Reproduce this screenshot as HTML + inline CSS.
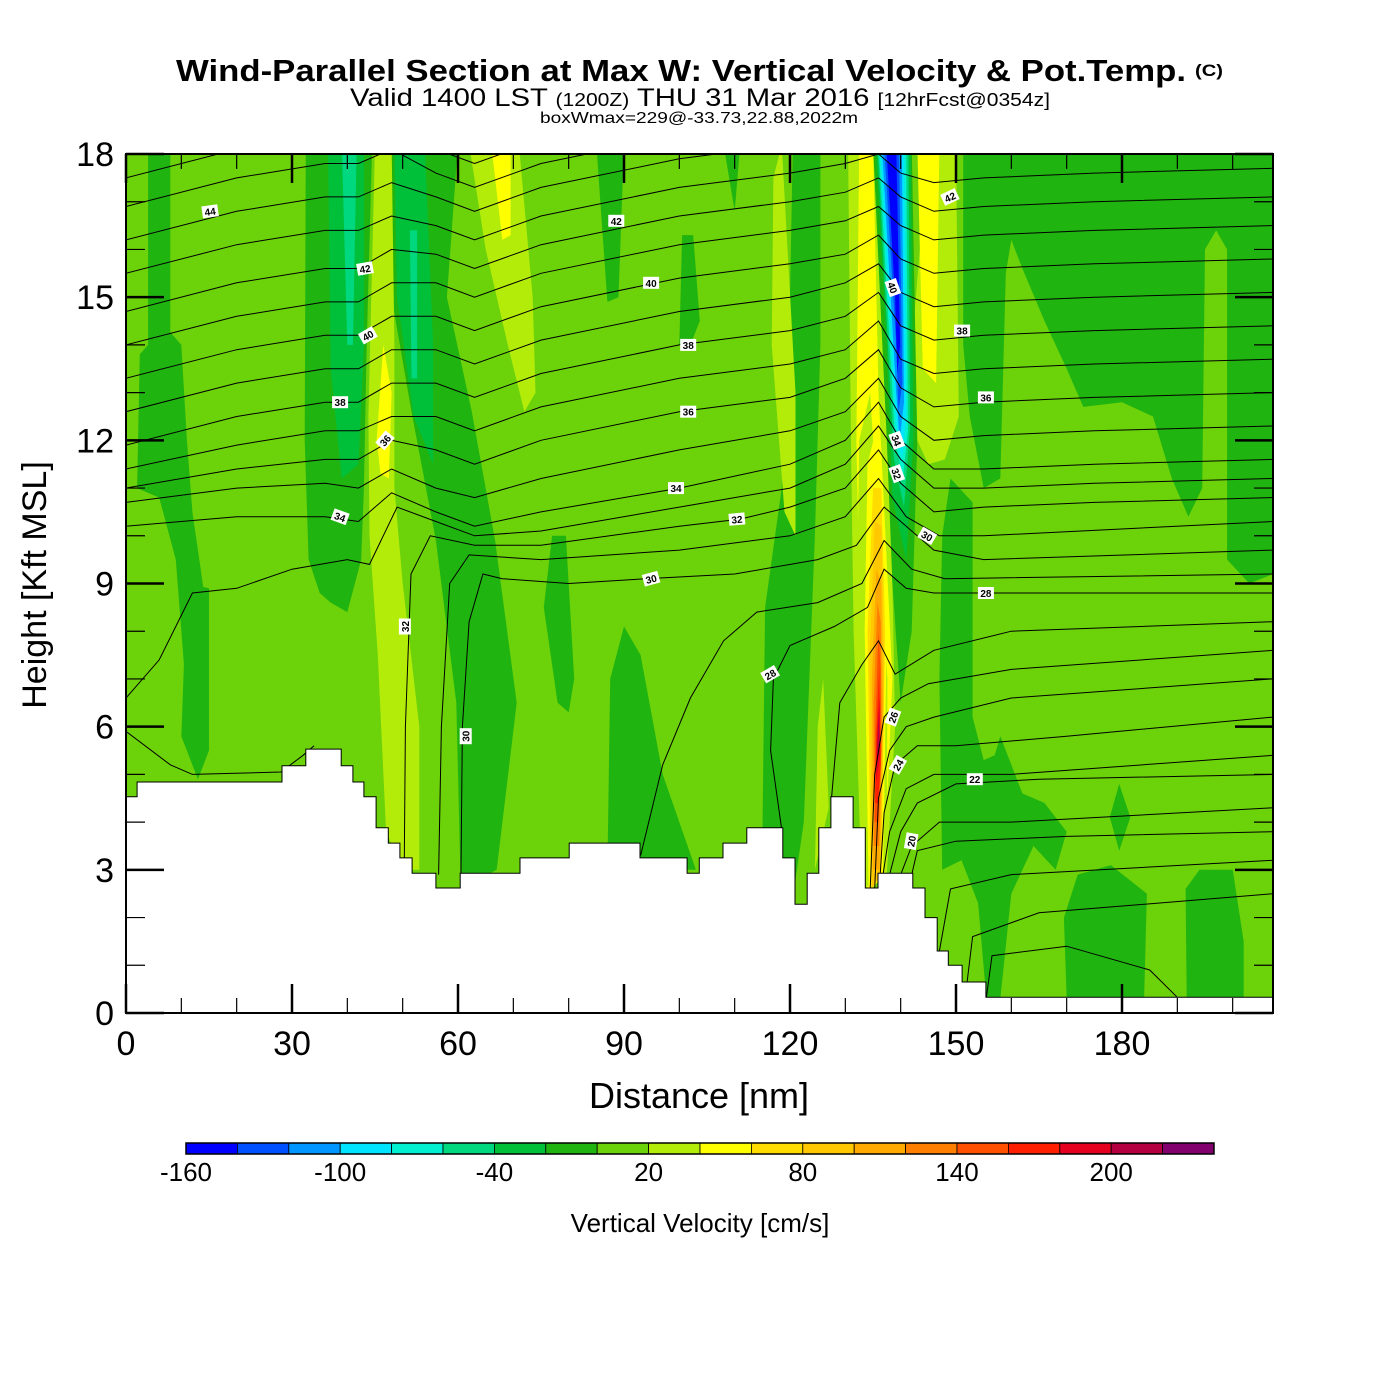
<!DOCTYPE html>
<html><head><meta charset="utf-8"><style>
html,body{margin:0;padding:0;background:#fff;}
svg{display:block;font-family:"Liberation Sans",Arial,sans-serif;}
</style></head><body>
<svg id="chart" width="1400" height="1400" viewBox="0 0 1400 1400" xmlns="http://www.w3.org/2000/svg">
<defs><clipPath id="plotclip"><rect x="126" y="154" width="1147" height="859"/></clipPath></defs>
<g>
<text x="176" y="81" font-size="31" font-weight="bold" textLength="1010" lengthAdjust="spacingAndGlyphs">Wind-Parallel Section at Max W: Vertical Velocity &amp; Pot.Temp.</text>
<text x="1195" y="76" font-size="17" font-weight="bold" textLength="28" lengthAdjust="spacingAndGlyphs">(C)</text>
<text x="350" y="106" font-size="25" textLength="700" lengthAdjust="spacingAndGlyphs">Valid 1400 LST <tspan font-size="18">(1200Z)</tspan> THU 31 Mar 2016 <tspan font-size="18">[12hrFcst@0354z]</tspan></text>
<text x="540" y="123" font-size="16" textLength="318" lengthAdjust="spacingAndGlyphs">boxWmax=229@-33.73,22.88,2022m</text>
</g>
<g id="field" clip-path="url(#plotclip)"></g>
<g id="contours" clip-path="url(#plotclip)"></g>
<g id="terrain" clip-path="url(#plotclip)"></g>
<g id="clabels"></g>
<g id="axes"></g>
<g id="cbar"></g>
</svg>
<script>
// ---------- data ----------
const colorBins = ['#0000ff','#0050ff','#0096ff','#00e4ff','#00f0d0','#00d880','#00c03a','#20b410','#6cd20a','#b4ec0a','#ffff00','#ffdc00','#ffc800','#ffaa00','#ff8000','#ff5000','#ff1e00','#e60020','#b40040','#82006e'];
const colorBinStart = -160, colorBinStep = 20;
const colorbarTickLabels = ['-160','-100','-40','20','80','140','200'];
const xTickLabels = [0,30,60,90,120,150,180];
const yTickLabels = [0,3,6,9,12,15,18];
const backgroundValue = 10;
// field regions: value (cm/s) + outline in (nm, kft)
const regionValues = [
 -10,-10,
 -10,-30,-50,
 -10,-30,-50,
 30,50,30,50,
 -10,-10,-10,-10,-10,-10,
 -10,30,30,
 -10,-10,-10,-10,-10,
 30,50,30,50,
 -10,-30,-50,-70,-90,-110,-130,-150,
 30,50,70,90,110,130,150,170,190,210
];
const regionShapes = [
 [[2,11.0],[2.5,13.8],[7,14.4],[10,14.0],[11,12],[12,10.5],[14.5,8.5],[15,5.8],[13,5.0],[11,6.5],[9,9.5],[6,10.8]],
 [[4,14.0],[4,18.2],[8,18.2],[8,14.0]],
 [[32.5,18.2],[44.5,18.2],[43.5,14],[43,11],[42.5,9.5],[40,8.4],[37,8.6],[35,8.8],[33,9.5],[32.3,12]],
 [[36.5,18.2],[43,18.2],[43,14],[42,11.5],[39,11.2],[37,13.5]],
 [[39,18.2],[41.7,18.2],[41,14],[40,14]],
 [[48,18.2],[60,18.2],[58,15],[62.5,12.6],[66.7,9.9],[70.6,6.5],[67,3.0],[60.5,2.6],[59.7,6.5],[56,9.9],[51.6,12.6],[48,15]],
 [[48.5,18.2],[54,18.2],[55.5,14],[55.5,11.5],[52,12.5],[49,15]],
 [[51.3,16.4],[52.6,16.4],[52.6,13.3],[51.6,13.3]],
 [[45,18.2],[48,18.2],[48.5,14],[48.5,11],[50,9],[53,6],[53,3.0],[50,3.0],[47,3.8],[45.5,7.5],[44,10],[43.8,12.5]],
 [[45.3,12],[46.5,14.0],[48,13],[47.5,11.2],[46,11.3]],
 [[62,18.2],[71,18.2],[73.5,15],[74,13],[72,12.6],[69,14],[65,16]],
 [[66,18.2],[69.5,18.2],[69.5,16.3],[68,16.2]],
 [[75.5,8.5],[77,10],[79.5,10],[81,7],[80,6.3],[78,6.5]],
 [[87,3.0],[87.5,7],[90,8.1],[93,7.5],[97,5],[103,3.0]],
 [[85,18.2],[90,18.2],[89,15],[87,14.9]],
 [[100,14.0],[100.5,16.3],[102.5,16.3],[103.7,14.5],[102,14.0]],
 [[108,18.2],[111,18.2],[110,16.8]],
 [[115,3.5],[115.5,8.5],[118.5,11],[120,15],[120.5,18.2],[125.5,18.2],[125.5,14],[124.5,10],[122.5,4],[120,2.0]],
 [[10,5.8],[11,9],[15,8.9],[15,5.5],[13,4.9]],
 [[117,17.5],[118.5,18.2],[121,13],[121,10],[119,10.5],[116.7,14]],
 [[124.5,3.0],[125,6],[126,7],[127,4.3]],
 [[151.3,18.2],[207.3,18.2],[207.3,9.2],[203,9.0],[199,9.5],[199,16],[197,16.4],[195,16.0],[194.5,11],[192,10.4],[189,11.2],[185.6,12.5],[180,12.8],[173,12.7],[170,13.5],[166,14.5],[162,15.6],[160,16.2],[159,15.5],[158,11.2],[155,11.0],[152.5,12.5],[151.3,14]],
 [[147.5,3.0],[147,7],[147.5,10],[149,11.2],[153,10.7],[153,6.2],[155,5.3],[157,5.4],[158,5.8],[162,4.6],[166,4.4],[170,3.8],[168,3.0],[164,3.5],[160,2.5],[158,0.3],[155.5,0.3],[154,2.3],[151,3.2]],
 [[170,0.3],[169.5,2.0],[172,2.9],[178,3.1],[184.5,2.5],[184,0.3]],
 [[191.7,0.3],[191.5,2.6],[194,3.0],[200,3.0],[202,1.5],[202,0.3]],
 [[177.8,4.1],[179.5,4.8],[181.5,4.1],[179.5,3.4]],
 [[145,18.2],[150,18.2],[150.5,12.5],[148,11.6],[145,11.5],[141,12.5]],
 [[143,18.2],[147,18.2],[146.4,13.2],[144,13.5]],
 [[130.5,18.2],[131,12],[131.5,8],[133,2.5],[137.5,2.9],[139,6],[138,12],[137,18.2]],
 [[132.5,18.2],[132,12],[132.7,8],[134,2.5],[137,2.9],[138.5,7],[136,13],[135,18.2]],
 [[135,18.2],[142,18.2],[143,12],[142,8],[140,6.5],[138.5,9],[137.5,12]],
 [[135.5,18.2],[141.8,18.2],[142.3,12],[141,9.5],[138.5,10.8],[137.5,14]],
 [[135.8,18.2],[141.4,18.2],[141.7,12.3],[140.6,10.6],[138.8,11.6]],
 [[136,18.2],[141,18.2],[141.3,12.2],[140.4,11.2],[139,12]],
 [[136.3,18.2],[140.6,18.2],[141.0,12.5],[140.2,11.6],[139.2,12.4]],
 [[136.6,18.2],[140.2,18.2],[140.6,12.8],[139.8,12.0],[139.2,13]],
 [[137,18.2],[139.7,18.2],[140.3,13.2],[139.6,12.6],[139.2,14]],
 [[137.4,18.2],[139.2,18.2],[139.9,14.0],[139.4,13.4],[139.0,15]],
 [[133.2,2.6],[132,8],[132.5,12],[134.5,13],[137.6,7],[137.5,2.9]],
 [[134.2,2.6],[133.5,8],[134,11.5],[135.5,12.2],[137.5,8],[136.8,2.9]],
 [[134.6,2.6],[134,8],[135,11.0],[136.5,11.0],[137.2,8],[136.5,2.9]],
 [[134.8,2.6],[134.4,7.5],[135.3,10.3],[136.5,10.2],[137,7],[136.4,2.9]],
 [[135,3.0],[134.8,7],[135.6,9.3],[136.5,9.0],[136.8,6.5],[136.2,3.0]],
 [[135.2,3.5],[135.1,6.5],[135.8,8.6],[136.4,8.2],[136.6,6],[136.1,3.5]],
 [[135.3,4.0],[135.4,6],[136,8.0],[136.4,7.2],[136.5,5.5],[136,4.0]],
 [[135.4,4.4],[135.6,5.8],[136.1,7.2],[136.4,5.2],[135.9,4.4]],
 [[135.5,4.8],[135.8,6.0],[136.2,6.6],[136.3,5.4]],
 [[135.7,5.3],[136.0,6.2],[136.2,5.6]]
];
// theta contours (K): upper levels on shared x nodes
const upperNodesX = [0,20,36,42,48,56,63,75,100,120,130,136,140,146,155,175,207.3];
const upperLevels = [46,45,44,43,42,41,40,39,38,37,36,35,34];
const upperHeights = [
 [17.5,18.1,18.4,18.4,18.7,18.1,17.8,18.3,18.9,19.2,19.4,19.6,19.3,19.0,19.1,19.2,19.3],
 [16.9,17.5,17.8,17.8,18.1,17.6,17.3,17.8,18.4,18.7,18.9,19.1,18.8,18.5,18.6,18.7,18.8],
 [16.2,16.8,17.1,17.1,17.4,17.1,16.8,17.3,17.9,18.2,18.4,18.6,18.3,18.0,18.1,18.2,18.3],
 [15.5,16.1,16.4,16.4,16.7,16.5,16.2,16.7,17.3,17.6,17.8,18.0,17.6,17.4,17.5,17.6,17.7],
 [14.7,15.3,15.6,15.6,16.0,15.9,15.6,16.1,16.7,17.0,17.2,17.5,17.1,16.8,16.9,17.0,17.1],
 [14.0,14.6,14.9,14.9,15.3,15.3,15.0,15.5,16.1,16.4,16.6,16.9,16.5,16.2,16.3,16.4,16.5],
 [13.3,13.9,14.2,14.2,14.6,14.6,14.3,14.8,15.4,15.7,15.9,16.3,15.8,15.5,15.6,15.7,15.8],
 [12.6,13.2,13.5,13.5,13.9,13.9,13.6,14.1,14.7,15.0,15.3,15.7,15.1,14.8,14.9,15.0,15.1],
 [11.9,12.5,12.8,12.8,13.2,13.2,12.9,13.4,14.0,14.3,14.6,15.1,14.4,14.1,14.2,14.3,14.4],
 [11.4,11.9,12.2,12.2,12.5,12.5,12.2,12.7,13.3,13.6,13.9,14.5,13.7,13.4,13.5,13.6,13.7],
 [11.0,11.4,11.6,11.6,12.0,11.8,11.5,12.0,12.6,12.9,13.3,13.9,13.1,12.7,12.8,12.9,13.0],
 [10.7,11.0,11.1,11.0,11.4,11.0,10.8,11.2,11.8,12.2,12.6,13.3,12.5,12.0,12.1,12.2,12.3],
 [10.2,10.4,10.4,10.3,10.9,10.5,10.2,10.5,11.0,11.5,12.0,12.8,12.0,11.4,11.4,11.5,11.6]
];
const lowerLevels = [33,32,31,30,29,28,27,26,25,24,23,22,21,20,19,18,29,28];
const lowerPaths = [
 [[0,6.6],[6,7.4],[12,8.8],[20,8.9],[30,9.3],[40,9.5],[44,9.4],[49,10.6],[56,10.3],[63,10.0],[75,10.1],[100,10.6],[120,11.0],[130,11.5],[136,12.3],[140,11.6],[146,11.0],[155,11.0],[175,11.1],[207.3,11.2]],
 [[50.3,3.2],[50.5,6],[51.5,9.2],[55,10.0],[63,9.8],[75,9.8],[100,10.2],[111,10.35],[120,10.6],[130,11.0],[136,11.8],[140,11.1],[146,10.5],[155,10.6],[175,10.7],[207.3,10.8]],
 [[56.5,2.9],[57,6],[58.5,9.0],[62,9.6],[75,9.5],[100,9.7],[120,10.0],[130,10.4],[136,11.2],[141,10.4],[147,10.0],[155,10.0],[207.3,10.3]],
 [[60.5,2.6],[60.8,6],[62,8.2],[64.5,9.2],[68,9.1],[80,9.0],[94,9.1],[110,9.2],[125,9.5],[132,9.8],[137,10.6],[142,10.1],[146,9.7],[155,9.5],[207.3,9.7]],
 [[93,3.3],[97,5.2],[102,6.6],[108,7.8],[114,8.4],[125,8.6],[133,9.0],[137,9.9],[142,9.3],[148,9.1],[207.3,9.2]],
 [[118.5,3.85],[116.5,5.5],[117,7.0],[120,7.7],[128,8.1],[134,8.5],[137,9.3],[141,8.9],[146,8.8],[155,8.8],[207.3,8.8]],
 [[127.5,4.5],[129,6.5],[133,7.3],[136,7.8],[139,7.1],[146,7.6],[160,8.0],[207.3,8.2]],
 [[134.5,2.6],[135.3,5],[137,6.2],[140,6.6],[145,6.9],[160,7.2],[207.3,7.6]],
 [[135.3,2.6],[136,4.5],[138,5.5],[141,6.0],[146,6.2],[160,6.6],[207.3,7.0]],
 [[136.2,2.7],[137,4.2],[139,5.2],[143,5.6],[150,5.6],[170,5.8],[207.3,6.2]],
 [[136.8,2.9],[138,3.8],[141,4.7],[146,5.0],[160,5.0],[207.3,5.4]],
 [[138,2.9],[140,3.8],[143,4.4],[150,4.8],[165,4.9],[207.3,5.0]],
 [[140,2.9],[142,3.5],[147,4.0],[160,4.0],[207.3,4.3]],
 [[142,2.9],[143,3.4],[150,3.6],[170,3.7],[207.3,3.8]],
 [[147,1.3],[149,2.6],[160,2.9],[207.3,3.2]],
 [[152,0.65],[153,1.6],[165,2.1],[207.3,2.5]],
 [[0,5.9],[8,5.2],[12,5.0],[28,5.05],[32,5.4],[34,5.6]],
 [[155.5,0.33],[156.5,1.2],[170,1.4],[185,0.9],[190,0.33]]
];
const contourLabels = [
 ['44',15.2,16.8,-8],['42',43.2,15.6,-10],['40',43.7,14.2,-30],['38',38.7,12.8,0],['36',46.8,12.0,-50],
 ['34',38.7,10.4,20],['32',50.4,8.1,-90],['30',61.4,5.8,-90],['42',88.6,16.6,0],['40',94.9,15.3,0],
 ['38',101.6,14.0,0],['36',101.6,12.6,0],['34',99.4,11.0,0],['32',110.4,10.35,-5],['30',94.9,9.1,-15],
 ['28',116.4,7.1,-30],['42',148.9,17.1,-25],['40',138.6,15.2,70],['38',151.1,14.3,0],['36',155.4,12.9,0],
 ['34',139.3,12.0,70],['32',139.3,11.3,70],['30',144.8,10.0,30],['28',155.4,8.8,0],['26',138.6,6.2,-70],
 ['24',139.5,5.2,-60],['22',153.4,4.9,0],['20',141.9,3.6,-80]
];
const terrainStartX = [0,2.0,28.2,32.5,38.9,41.0,43.0,45.2,47.4,49.5,51.7,56.0,60.4,71.2,80.1,92.9,101.4,103.6,107.9,112.2,118.7,120.9,123.1,125.2,127.4,131.4,133.6,135.9,142.2,144.4,146.6,148.6,151.1,155.4];
const terrainHeight = [4.53,4.84,5.18,5.53,5.18,4.84,4.53,3.88,3.56,3.25,2.93,2.62,2.93,3.25,3.56,3.25,2.93,3.25,3.56,3.88,3.25,2.28,2.93,3.88,4.53,3.88,2.62,2.93,2.62,2.0,1.3,1.0,0.65,0.33];

// ---------- axes functions ----------
const X0=126, X1=1273, Y0=1013, Y1=154, XMAX=(1273-126)/(166/30), YMAX=18;
const sx = v => X0 + v*(166/30);
const sy = v => Y0 - v*(Y0-Y1)/YMAX;
const NS='http://www.w3.org/2000/svg';
function mk(tag, attrs, parent){const e=document.createElementNS(NS,tag);for(const k in attrs)e.setAttribute(k,attrs[k]);parent.appendChild(e);return e;}
const colorFor = v => colorBins[Math.max(0,Math.min(colorBins.length-1,Math.floor((v-colorBinStart)/colorBinStep)))];
const pts = arr => arr.map(p=>sx(p[0]).toFixed(1)+','+sy(p[1]).toFixed(1)).join(' ');

// field
const field=document.getElementById('field');
const bg=mk('rect',{x:X0,y:Y1,width:X1-X0,height:Y0-Y1,fill:colorFor(backgroundValue)},field);


regionShapes.forEach((shape,i)=>{
  const p=mk('polygon',{points:pts(shape),fill:colorFor(regionValues[i])},field);
  
  
});

// contours
const cg=document.getElementById('contours');
upperLevels.forEach((lev,i)=>{
  const line=upperNodesX.map((x,j)=>[x,upperHeights[i][j]]);
  const pl=mk('polyline',{points:pts(line),fill:'none',stroke:'#000','stroke-width':1},cg);
  
  
});
lowerPaths.forEach((line,i)=>{
  const pl=mk('polyline',{points:pts(line),fill:'none',stroke:'#000','stroke-width':1},cg);
  
  
});

// terrain
const tg=document.getElementById('terrain');
let tp=[[0,0]];
terrainStartX.forEach((x,i)=>{const xe=i+1<terrainStartX.length?terrainStartX[i+1]:XMAX+1;tp.push([x,terrainHeight[i]]);tp.push([xe,terrainHeight[i]]);});
tp.push([XMAX+1,0]);tp.push([XMAX+1,-1]);tp.push([0,-1]);
const tpoly=mk('polygon',{points:pts(tp),fill:'#fff',stroke:'#000','stroke-width':1},tg);



// contour labels
const lg=document.getElementById('clabels');
contourLabels.forEach(l=>{
  const g=mk('g',{transform:`translate(${sx(l[1]).toFixed(1)},${sy(l[2]).toFixed(1)}) rotate(${l[3]})`},lg);
  
  
  mk('rect',{x:-8,y:-6,width:16,height:12,fill:'#fff'},g);
  const t=mk('text',{x:0,y:4,'font-size':10,'font-weight':'bold','text-anchor':'middle'},g);
  t.textContent=l[0];
});

// axes
const ax=document.getElementById('axes');
const frame=mk('rect',{x:X0,y:Y1,width:X1-X0,height:Y0-Y1,fill:'none',stroke:'#000','stroke-width':2},ax);


for(let v=0; v<=XMAX; v+=10){
  const major=(v%30===0), L=major?29:15;
  mk('line',{x1:sx(v),x2:sx(v),y1:Y0,y2:Y0-L,stroke:'#000','stroke-width':major?2.5:1.2},ax);
  mk('line',{x1:sx(v),x2:sx(v),y1:Y1,y2:Y1+L,stroke:'#000','stroke-width':major?2.5:1.2},ax);
}
for(let v=0; v<=YMAX; v+=1){
  const major=(v%3===0), L=major?38:19;
  mk('line',{x1:X0,x2:X0+L,y1:sy(v),y2:sy(v),stroke:'#000','stroke-width':major?2.5:1.2},ax);
  mk('line',{x1:X1,x2:X1-L,y1:sy(v),y2:sy(v),stroke:'#000','stroke-width':major?2.5:1.2},ax);
}
xTickLabels.forEach(v=>{
  const t=mk('text',{x:sx(v),y:1055,'font-size':34,'text-anchor':'middle'},ax);
  
  
  t.textContent=v;
});
yTickLabels.forEach(v=>{
  const t=mk('text',{x:114,y:sy(v)+12,'font-size':34,'text-anchor':'end'},ax);
  
  
  t.textContent=v;
});
const xt=mk('text',{x:699,y:1108,'font-size':36,'text-anchor':'middle'},ax);


xt.textContent='Distance [nm]';
const yt=mk('text',{x:0,y:0,'font-size':34,'text-anchor':'middle',transform:'translate(46,585) rotate(-90)'},ax);


yt.textContent='Height [Kft MSL]';

// colorbar
const cb=document.getElementById('cbar');
const CB0=186, CB1=1214, bw=(CB1-CB0)/colorBins.length;
colorBins.forEach((c,i)=>{
  const r=mk('rect',{x:CB0+i*bw,y:1143,width:bw,height:11,fill:c,stroke:'#000','stroke-width':0.8},cb);
  
  
});
mk('rect',{x:CB0,y:1143,width:CB1-CB0,height:11,fill:'none',stroke:'#000','stroke-width':1.5},cb);
colorbarTickLabels.forEach((s,i)=>{
  const t=mk('text',{x:CB0+i*3*bw,y:1181,'font-size':26,'text-anchor':'middle'},cb);
  
  
  t.textContent=s;
});
const ct=mk('text',{x:700,y:1232,'font-size':26,'text-anchor':'middle'},cb);


ct.textContent='Vertical Velocity [cm/s]';
</script>
</body></html>
